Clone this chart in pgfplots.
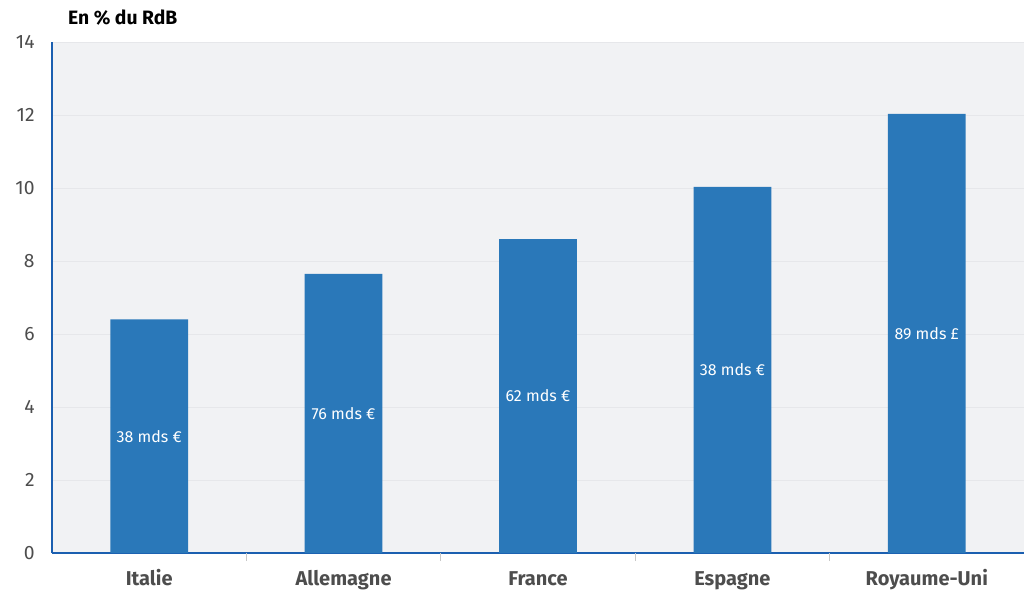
\documentclass[border=0pt]{standalone}
\usepackage{fontspec}
\setmainfont{Fira Sans}
\usepackage{pgfplots}
\pgfplotsset{compat=1.18}
\usepackage{pgfplotstable}
\usetikzlibrary{calc}
\definecolor{barblue}{HTML}{2A78B9}
\definecolor{axblue}{HTML}{1B5FB0}
\definecolor{bggray}{HTML}{F1F2F4}
\definecolor{gridgray}{HTML}{E6E7EA}
\definecolor{txtgray}{HTML}{4D4D4D}
\definecolor{tickgray}{HTML}{C8C8C8}
\pgfplotstableread[col sep=comma]{
x,y,lab
0,6.4,38 mds €
1,7.65,76 mds €
2,8.6,62 mds €
3,10.03,38 mds €
4,12.03,89 mds £
}\datatable
\begin{document}
\begin{tikzpicture}[x=1pt,y=1pt]
\begin{axis}[
  name=ax,
  scale only axis,
  width=729pt, height=383.25pt,
  xmin=-0.5, xmax=4.5,
  ymin=0, ymax=14,
  ytick={0,2,...,14},
  xtick={0,1,2,3,4},
  xticklabels={Italie,Allemagne,France,Espagne,Royaume-Uni},
  extra x ticks={0.5,1.5,2.5,3.5},
  extra x tick labels={},
  extra x tick style={major tick length=6pt, tick style={tickgray, line width=1pt}, tick align=outside, grid=none},
  major tick length=0pt,
  ytick style={draw=tickgray, line width=0.6pt},
  ymajorgrids,
  grid style={gridgray, line width=0.5pt},
  axis x line*=bottom,
  axis y line*=left,
  axis line style={axblue, line width=1.2pt, -},
  axis background/.style={fill=bggray},
  /pgf/number format/assume math mode=true,
  yticklabel style={font=\fontsize{14.5pt}{16pt}\selectfont, text=txtgray, xshift=-9.5pt},
  xticklabel style={font=\bfseries\fontsize{15pt}{17pt}\selectfont, text=txtgray, anchor=base, yshift=-24pt},
  clip=false,
]
\addplot[ybar, bar width=0.4, fill=barblue, draw=none] table[x=x,y=y]{\datatable};
\addplot[draw=none, mark=none, nodes near coords, point meta=explicit symbolic,
  nodes near coords align=center,
  every node near coord/.append style={text=white, font=\fontsize{12pt}{14pt}\selectfont, anchor=center}]
  table[x=x, y expr=\thisrow{y}/2, meta=lab]{\datatable};
\end{axis}
\node[anchor=west, font=\bfseries\fontsize{14.5pt}{16pt}\selectfont, text=black] at ($(ax.north west)+(8.5pt,18.5pt)$) {En \% du RdB};
\path[use as bounding box] ($(ax.south west)+(-39pt,-27pt)$) rectangle ($(ax.north east)+(3.75pt,31.5pt)$);
\end{tikzpicture}
\end{document}
